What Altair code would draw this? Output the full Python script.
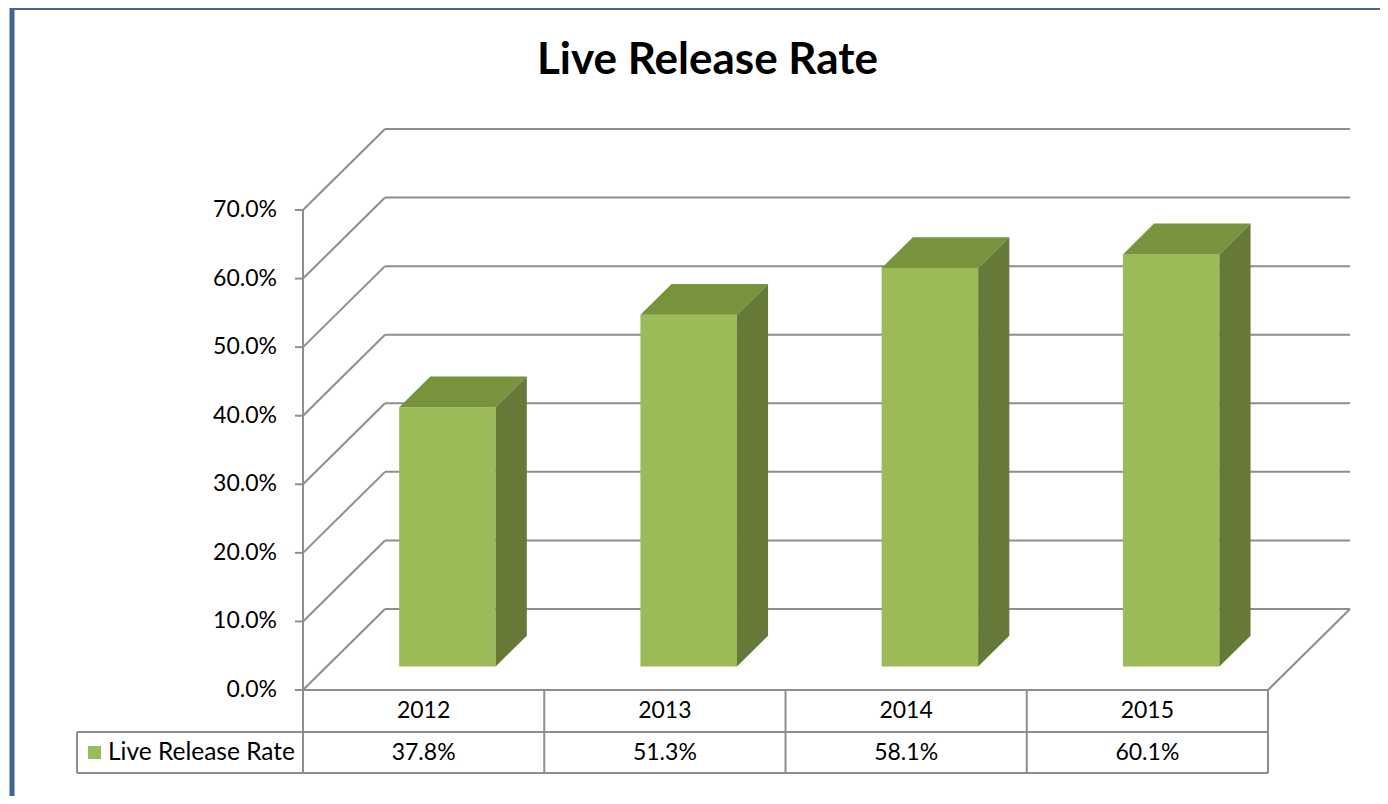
import altair as alt
import pandas as pd

# ---------------- data ----------------
years = ["2012", "2013", "2014", "2015"]
rates = [0.378, 0.513, 0.581, 0.601]
tick_values = [0.0, 0.1, 0.2, 0.3, 0.4, 0.5, 0.6, 0.7]
chart_title = "Live Release Rate"
series_name = "Live Release Rate"

# ---------------- layout / projection constants ----------------
W, H = 1372, 788            # plot area (page 8..1380, 8..796)
PX_X = 241.25               # px per category unit (front plane)
PX_Y = 685.7                # px per 100 % (front plane)
ORIGIN_X, ORIGIN_Y = 303, 690   # page position of front-left floor corner
x_dom = [(8 - ORIGIN_X) / PX_X, (8 + W - ORIGIN_X) / PX_X]
y_dom = [(ORIGIN_Y - (8 + H)) / PX_Y, (ORIGIN_Y - 8) / PX_Y]
DX = 82 / PX_X              # depth offset in x units
DY = 81 / PX_Y              # depth offset in y units
D0, D1 = 0.29, 0.67         # bar depth span (fraction of full depth)
HALF = 0.2                  # half bar width in category units
N = len(years)
ROW1 = 42 / PX_Y            # table row boundaries in y units
ROW2 = 83 / PX_Y
LEG_LEFT = (77 - ORIGIN_X) / PX_X

FONT = "Lato"
GRID = "#8E8E8E"
FRONT = "#9BBB59"
TOP = "#77933C"
SIDE = "#657A38"
BORDER = "#3F6595"
FS = 23

xs = alt.Scale(domain=x_dom, nice=False, zero=False)
ys = alt.Scale(domain=y_dom, nice=False, zero=False)


def X(f):
    return alt.X(f, type="quantitative", scale=xs, axis=None)


def Y(f):
    return alt.Y(f, type="quantitative", scale=ys, axis=None)


# ---------------- frame ----------------
border_df = pd.DataFrame({"x": [(12 - ORIGIN_X) / PX_X], "x2": [x_dom[1] + 1],
                          "y": [(ORIGIN_Y - 7.5) / PX_Y], "y2": [y_dom[0] - 1]})
border = alt.Chart(border_df).mark_rect(fill=None, stroke=BORDER, strokeWidth=5, clip=True).encode(
    x=X("x"), x2=alt.X2("x2"), y=Y("y"), y2=alt.Y2("y2"))

# back wall gridlines
back_df = pd.DataFrame({"x": [DX] * len(tick_values), "x2": [N + DX] * len(tick_values),
                        "y": [v + DY for v in tick_values]})
back = alt.Chart(back_df).mark_rule(color=GRID, strokeWidth=2).encode(
    x=X("x"), x2=alt.X2("x2"), y=Y("y"))

# side wall diagonals
side_df = pd.DataFrame({"x": [0.0] * len(tick_values), "x2": [DX] * len(tick_values),
                        "y": tick_values, "y2": [v + DY for v in tick_values]})
side_wall = alt.Chart(side_df).mark_rule(color=GRID, strokeWidth=2).encode(
    x=X("x"), x2=alt.X2("x2"), y=Y("y"), y2=alt.Y2("y2"))

# floor front edge + right diagonal
floor_df = pd.DataFrame({"x": [0.0, N], "x2": [N, N + DX], "y": [0.0, 0.0], "y2": [0.0, DY]})
floor = alt.Chart(floor_df).mark_rule(color=GRID, strokeWidth=2).encode(
    x=X("x"), x2=alt.X2("x2"), y=Y("y"), y2=alt.Y2("y2"))

# vertical axis line and ticks
axis_df = pd.DataFrame({"x": [0.0], "y": [0.0], "y2": [max(tick_values)]})
axis_line = alt.Chart(axis_df).mark_rule(color=GRID, strokeWidth=2).encode(
    x=X("x"), y=Y("y"), y2=alt.Y2("y2"))
tick_df = pd.DataFrame({"x": [-8 / PX_X] * len(tick_values), "x2": [0.0] * len(tick_values),
                        "y": tick_values})
ticks = alt.Chart(tick_df).mark_rule(color=GRID, strokeWidth=2).encode(
    x=X("x"), x2=alt.X2("x2"), y=Y("y"))

lab_df = pd.DataFrame({"x": [(277 - ORIGIN_X) / PX_X] * len(tick_values), "y": tick_values})
labels = alt.Chart(lab_df).mark_text(align="right", baseline="middle", font=FONT, fontSize=FS,
                                     color="black").encode(
    x=X("x"), y=Y("y"), text=alt.Text("y:Q", format=".1%"))

# ---------------- bars ----------------
front_df = pd.DataFrame({
    "year": years,
    "x": [i + 0.5 - HALF + D0 * DX for i in range(N)],
    "x2": [i + 0.5 + HALF + D0 * DX for i in range(N)],
    "y": [D0 * DY] * N,
    "y2": [r + D0 * DY for r in rates],
})
front = alt.Chart(front_df).mark_rect(color=FRONT).encode(
    x=X("x"), x2=alt.X2("x2"), y=Y("y"), y2=alt.Y2("y2"))

top_rows = []
side_rows = []
for i, (yr, r) in enumerate(zip(years, rates)):
    for d in (D0, D1):
        top_rows.append({"year": yr, "y": r + d * DY,
                         "x": i + 0.5 - HALF + d * DX, "x2": i + 0.5 + HALF + d * DX})
        side_rows.append({"year": yr, "x": i + 0.5 + HALF + d * DX,
                          "y": d * DY, "y2": r + d * DY})
top_df = pd.DataFrame(top_rows)
side_face_df = pd.DataFrame(side_rows)

bar_layers = [front]
for yr in years:
    bar_layers.append(
        alt.Chart(top_df).transform_filter(alt.datum.year == yr).mark_area(
            orient="horizontal", color=TOP, opacity=1, interpolate="linear").encode(
            y=Y("y"), x=X("x"), x2=alt.X2("x2")))
    bar_layers.append(
        alt.Chart(side_face_df).transform_filter(alt.datum.year == yr).mark_area(
            orient="vertical", color=SIDE, opacity=1, interpolate="linear").encode(
            x=X("x"), y=Y("y"), y2=alt.Y2("y2")))

# ---------------- data table ----------------
hl_df = pd.DataFrame({"x": [LEG_LEFT, LEG_LEFT], "x2": [N, N], "y": [-ROW1, -ROW2]})
hlines = alt.Chart(hl_df).mark_rule(color=GRID, strokeWidth=2).encode(
    x=X("x"), x2=alt.X2("x2"), y=Y("y"))
vl_df = pd.DataFrame({"x": [float(i) for i in range(N + 1)] + [LEG_LEFT],
                      "y": [0.0] * (N + 1) + [-ROW1], "y2": [-ROW2] * (N + 2)})
vlines = alt.Chart(vl_df).mark_rule(color=GRID, strokeWidth=2).encode(
    x=X("x"), y=Y("y"), y2=alt.Y2("y2"))

cell_df = pd.DataFrame({"year": years, "rate": rates,
                        "x": [i + 0.5 for i in range(N)],
                        "yy": [-ROW1 / 2] * N, "yv": [-(ROW1 + ROW2) / 2] * N})
year_txt = alt.Chart(cell_df).mark_text(font=FONT, fontSize=FS, color="black",
                                        baseline="middle").encode(
    x=X("x"), y=Y("yy"), text="year:N")
val_txt = alt.Chart(cell_df).mark_text(font=FONT, fontSize=FS, color="black",
                                       baseline="middle").encode(
    x=X("x"), y=Y("yv"), text=alt.Text("rate:Q", format=".1%"))

leg_df = pd.DataFrame({"name": [series_name], "xs": [(94.5 - ORIGIN_X) / PX_X],
                       "xt": [(108 - ORIGIN_X) / PX_X], "y": [-(ROW1 + ROW2) / 2]})
leg_sq = alt.Chart(leg_df).mark_square(color=FRONT, size=169, opacity=1, filled=True).encode(
    x=X("xs"), y=Y("y"))
leg_txt = alt.Chart(leg_df).mark_text(font=FONT, fontSize=24.5, color="black", align="left",
                                      baseline="middle").encode(x=X("xt"), y=Y("y"), text="name:N")

# ---------------- title ----------------
title_df = pd.DataFrame({"t": [chart_title], "x": [(707.5 - ORIGIN_X) / PX_X],
                         "y": [(ORIGIN_Y - 74) / PX_Y]})
title = alt.Chart(title_df).mark_text(font=FONT, fontSize=44, fontWeight="bold", color="black",
                                      baseline="alphabetic").encode(x=X("x"), y=Y("y"), text="t:N")

chart = alt.layer(
    border, back, side_wall, floor, axis_line, ticks, labels,
    *bar_layers,
    hlines, vlines, year_txt, val_txt, leg_sq, leg_txt, title,
).properties(
    width=W, height=H, padding=0, autosize=alt.AutoSizeParams(type="none"),
    background="white",
).configure_view(stroke=None)

chart.save("out.html", embed_options={"renderer": "svg", "actions": False})
